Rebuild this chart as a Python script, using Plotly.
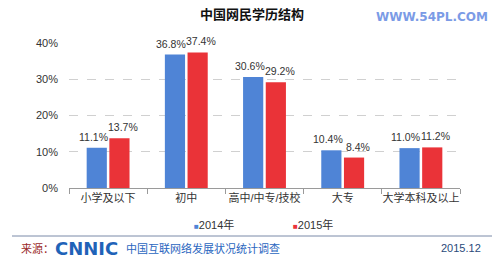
import plotly.graph_objects as go

categories = ["小学及以下", "初中", "高中/中专/技校", "大专", "大学本科及以上"]
values_2014 = [11.1, 36.8, 30.6, 10.4, 11.0]
values_2015 = [13.7, 37.4, 29.2, 8.4, 11.2]
series_names = ["2014年", "2015年"]
y_ticks = [0, 10, 20, 30, 40]
y_tick_labels = ["0%", "10%", "20%", "30%", "40%"]

FONT = "Liberation Sans, Noto Sans CJK SC, sans-serif"
BLUE = "#4f84d6"
RED = "#ea3338"
colors = [BLUE, RED]

fig = go.Figure()
for name, vals, col in zip(series_names, [values_2014, values_2015], colors):
    fig.add_trace(go.Bar(
        x=categories, y=vals, name=name, marker=dict(color=col, line=dict(width=0)),
        cliponaxis=False,
    ))

fig.update_layout(
    width=496, height=261,
    margin=dict(l=69, r=36, t=43, b=73),
    paper_bgcolor="white", plot_bgcolor="white",
    barmode="group", bargap=0.42, bargroupgap=0.11,
    font=dict(family=FONT, size=11, color="#333333"),
    showlegend=False,
    title=dict(text="<b>中国网民学历结构</b>", x=0.508, xanchor="center", y=0.945, yanchor="middle",
               font=dict(size=13, color="#111111", family="Noto Sans CJK SC")),
)
fig.update_xaxes(
    showline=True, linecolor="#9a9a9a", linewidth=1, tickangle=0,
    ticks="outside", tickson="boundaries", ticklen=5, tickcolor="#9a9a9a",
    tickfont=dict(size=11, color="#333333"), showgrid=False,
)
fig.update_yaxes(
    range=[0, 40], tickvals=y_ticks, ticktext=y_tick_labels,
    showgrid=True, gridcolor="#d0d0d0", griddash="dash", gridwidth=1,
    zeroline=False, showline=False, ticks="", ticklabelstandoff=10,
    tickfont=dict(size=11, color="#333333"),
)

# Data labels centred over each bar (bars are ~12.5 px either side of category centre)
for vals, shift in [(values_2014, -15), (values_2015, 15)]:
    for c, v in zip(categories, vals):
        fig.add_annotation(x=c, y=v, text=f"{v:.1f}%", xref="x", yref="y",
                           xshift=shift, yshift=3, xanchor="center", yanchor="bottom",
                           showarrow=False, font=dict(size=10.5, color="#333333", family=FONT))

def py(pix):
    return (188 - pix) / 145

def px(pix):
    return (pix - 69) / 391

# Legend drawn as annotations
for name, col, xp in zip(series_names, colors, [192, 291]):
    fig.add_annotation(text=f"<span style='color:{col};font-size:8px'>■</span>{name}",
                       xref="paper", yref="paper", x=px(xp), y=py(224),
                       xanchor="left", yanchor="middle", showarrow=False,
                       font=dict(size=11, color="#333333", family=FONT))

fig.add_annotation(text="<b>WWW.54PL.COM</b>", xref="paper", yref="paper",
                   x=px(432), y=py(17),
                   showarrow=False, font=dict(size=12, color="#7b9be6", family="DejaVu Sans"),
                   xanchor="center", yanchor="middle")

# Footer
fig.add_shape(type="line", xref="paper", yref="paper",
              x0=px(12), x1=px(492), y0=py(236), y1=py(236),
              line=dict(color="#7a8aa8", width=1))
fy = py(248)
fig.add_annotation(text="来源：", xref="paper", yref="paper", x=px(19), y=fy,
                   xanchor="left", yanchor="middle", showarrow=False,
                   font=dict(size=11, color="#9b2a2a", family="Noto Sans CJK SC"))
fig.add_annotation(text="<b>CNNIC</b>", xref="paper", yref="paper", x=px(53), y=fy,
                   xanchor="left", yanchor="middle", showarrow=False,
                   font=dict(size=18, color="#1f63b8", family="DejaVu Sans"))
fig.add_annotation(text="中国互联网络发展状况统计调查", xref="paper", yref="paper", x=px(124), y=fy,
                   xanchor="left", yanchor="middle", showarrow=False,
                   font=dict(size=11, color="#2a66c0", family="Noto Sans CJK SC"))
fig.add_annotation(text="2015.12", xref="paper", yref="paper", x=px(483), y=fy,
                   xanchor="right", yanchor="middle", showarrow=False,
                   font=dict(size=11, color="#2a4a7a", family=FONT))

fig.write_html("out.html")
